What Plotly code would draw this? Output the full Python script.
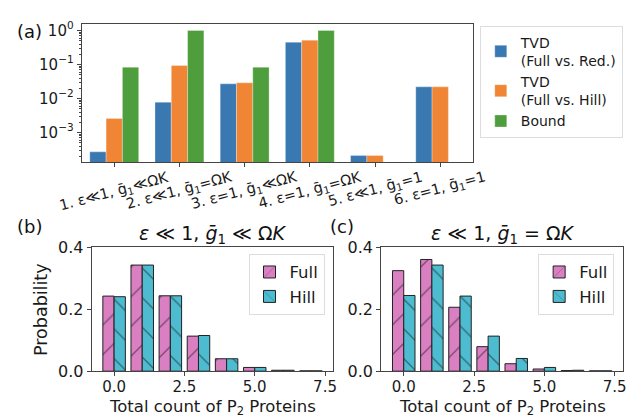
import plotly.graph_objects as go

W, H = 641, 419

# ---------------- data ----------------
case_labels = ["1. ε≪1, ḡ<sub>1</sub>≪ΩK", "2. ε≪1, ḡ<sub>1</sub>=ΩK", "3. ε=1, ḡ<sub>1</sub>≪ΩK",
               "4. ε=1, ḡ<sub>1</sub>=ΩK", "5. ε≪1, ḡ<sub>1</sub>=1", "6. ε=1, ḡ<sub>1</sub>=1"]
case_idx = [0, 1, 2, 3, 4, 5]
tvd_red = [2.7e-4, 7.8e-3, 0.027, 0.45, 2.1e-4, 0.022]
tvd_hill = [2.6e-3, 0.093, 0.029, 0.52, 2.1e-4, 0.022]
bound = [0.083, 1.0, 0.083, 1.0, None, None]

counts = [0, 1, 2, 3, 4, 5, 6, 7]
full_b = [0.242, 0.342, 0.243, 0.113, 0.040, 0.012, 0.003, 0.001]
hill_b = [0.240, 0.342, 0.243, 0.115, 0.040, 0.012, 0.003, 0.001]
full_c = [0.324, 0.360, 0.206, 0.079, 0.024, 0.007, 0.002, 0.001]
hill_c = [0.244, 0.342, 0.242, 0.113, 0.041, 0.012, 0.003, 0.001]

log_tickvals = [1e-3, 1e-2, 1e-1, 1]
log_ticktext = ["10<sup>−3</sup>", "10<sup>−2</sup>", "10<sup>−1</sup>", "10<sup>0</sup>"]
count_ticks = [0, 2.5, 5, 7.5]
count_ticktext = ["0.0", "2.5", "5.0", "7.5"]
prob_ticks = [0, 0.2, 0.4]
prob_ticktext = ["0.0", "0.2", "0.4"]

# ---------------- helpers ----------------
def px(x):
    return x / W

def py(y):
    return 1 - y / H

FONT = "DejaVu Sans"
BLUE, ORANGE, GREEN = "#3a78b2", "#ef8535", "#4f9e3d"
PINK, CYAN = "#d97fc2", "#4dbcd0"
TXT = "#1a1a1a"

fig = go.Figure()

# top panel
for name, vals, col in [("TVD<br>(Full vs. Red.)", tvd_red, BLUE),
                        ("TVD<br>(Full vs. Hill)", tvd_hill, ORANGE),
                        ("Bound", bound, GREEN)]:
    fig.add_trace(go.Bar(x=case_idx, y=vals, name=name, marker_color=col,
                         marker_line_width=0.5, marker_line_color="rgba(255,255,255,0.6)",
                         xaxis="x", yaxis="y", legend="legend"))

# bottom panels
for vals_f, vals_h, xa, ya, lg in [(full_b, hill_b, "x2", "y2", "legend2"),
                                   (full_c, hill_c, "x3", "y3", "legend3")]:
    fig.add_trace(go.Bar(x=counts, y=vals_f, name="Full", xaxis=xa, yaxis=ya, legend=lg,
                         marker=dict(color=PINK, line=dict(color="#222", width=1),
                         pattern=dict(shape="/", size=21, solidity=0.06, fgcolor="#111", bgcolor=PINK))))
    fig.add_trace(go.Bar(x=counts, y=vals_h, name="Hill", xaxis=xa, yaxis=ya, legend=lg,
                         marker=dict(color=CYAN, line=dict(color="#222", width=1),
                         pattern=dict(shape="\\", size=21, solidity=0.06, fgcolor="#111", bgcolor=CYAN))))

for i in range(3):
    fig.data[i].width = 0.25
    fig.data[i].offset = -0.375 + 0.25 * i
for tr in fig.data[3:]:
    tr.width = 0.4
    tr.offset = -0.4 if tr.name == "Full" else 0.0

line_common = dict(showline=True, linecolor="#444", linewidth=1, mirror=True,
                   ticks="outside", ticklen=4, tickcolor="#444", showgrid=False, zeroline=False)
tickf = dict(family=FONT, size=15, color=TXT)

fig.update_layout(
    width=W, height=H, margin=dict(l=0, r=0, t=0, b=0),
    paper_bgcolor="white", plot_bgcolor="white",
    font=dict(family=FONT, color=TXT),
    barmode="overlay",
    xaxis=dict(domain=[px(74), px(467)], anchor="y", range=[-0.5, 5.5],
               tickvals=case_idx, showticklabels=False, **line_common),
    yaxis=dict(domain=[py(152), py(7)], anchor="x", type="log", range=[-3.87, 0.2],
               tickvals=log_tickvals, ticktext=log_ticktext,
               tickfont=dict(family=FONT, size=15, color=TXT),
               minor=dict(ticks="outside", ticklen=2, tickcolor="#444",
                          tickvals=[m * 10 ** e for e in (-4, -3, -2, -1) for m in range(2, 10)]),
               **line_common),
    xaxis2=dict(domain=[px(84), px(327)], anchor="y2", range=[-0.8, 7.8], ticklabelstandoff=-2,
                tickvals=count_ticks, ticktext=count_ticktext, tickfont=tickf, **line_common),
    yaxis2=dict(domain=[py(371), py(241)], anchor="x2", range=[0, 0.4],
                tickvals=prob_ticks, ticktext=prob_ticktext, tickfont=dict(family=FONT, size=16, color=TXT),
                **line_common),
    xaxis3=dict(domain=[px(375), px(618)], anchor="y3", range=[-0.8, 7.8], ticklabelstandoff=-2,
                tickvals=count_ticks, ticktext=count_ticktext, tickfont=tickf, **line_common),
    yaxis3=dict(domain=[py(371), py(241)], anchor="x3", range=[0, 0.4],
                tickvals=prob_ticks, ticktext=prob_ticktext, tickfont=dict(family=FONT, size=16, color=TXT),
                **line_common),
    legend=dict(x=px(474), y=py(9), xanchor="left", yanchor="top",
                bordercolor="#ddd", borderwidth=1, bgcolor="white",
                font=dict(family=FONT, size=14, color=TXT), tracegroupgap=0),
    legend2=dict(x=px(318), y=py(248), xanchor="right", yanchor="top",
                 bordercolor="#ddd", borderwidth=1, bgcolor="white",
                 font=dict(family=FONT, size=16.5, color=TXT)),
    legend3=dict(x=px(609), y=py(248), xanchor="right", yanchor="top",
                 bordercolor="#ddd", borderwidth=1, bgcolor="white",
                 font=dict(family=FONT, size=16.5, color=TXT)),
)

ann = []
for i, lab in zip(case_idx, case_labels):
    ann.append(dict(x=i, y=py(156), xref="x", yref="paper", text=lab, showarrow=False,
                    textangle=-15, xanchor="center", yanchor="top",
                    font=dict(family=FONT, size=14.5, color=TXT)))
for txt, x, y in [("(a)", 22, 15), ("(b)", 22, 219), ("(c)", 336, 219)]:
    ann.append(dict(x=px(x), y=py(y), xref="paper", yref="paper", text=txt, showarrow=False,
                    xanchor="center", yanchor="middle", font=dict(family=FONT, size=18, color="#111")))
for txt, xc in [("<i>ε</i> ≪ 1, <i>ḡ</i><sub>1</sub> ≪ Ω<i>K</i>", (84 + 327) / 2),
                ("<i>ε</i> ≪ 1, <i>ḡ</i><sub>1</sub> = Ω<i>K</i>", (375 + 618) / 2)]:
    ann.append(dict(x=px(xc), y=py(228), xref="paper", yref="paper", text=txt, showarrow=False,
                    xanchor="center", yanchor="middle", font=dict(family=FONT, size=19, color="#111")))
# axis titles
for xc in [(84 + 327) / 2, (375 + 618) / 2]:
    ann.append(dict(x=px(xc), y=py(409), xref="paper", yref="paper",
                    text="Total count of P<sub>2</sub> Proteins", showarrow=False,
                    xanchor="center", yanchor="middle", font=dict(family=FONT, size=16.5, color=TXT)))
ann.append(dict(x=px(33), y=py(306), xref="paper", yref="paper", text="Probability",
                showarrow=False, textangle=-90, xanchor="center", yanchor="middle",
                font=dict(family=FONT, size=17.5, color=TXT)))
fig.update_layout(annotations=ann)

fig.write_html("out.html")
